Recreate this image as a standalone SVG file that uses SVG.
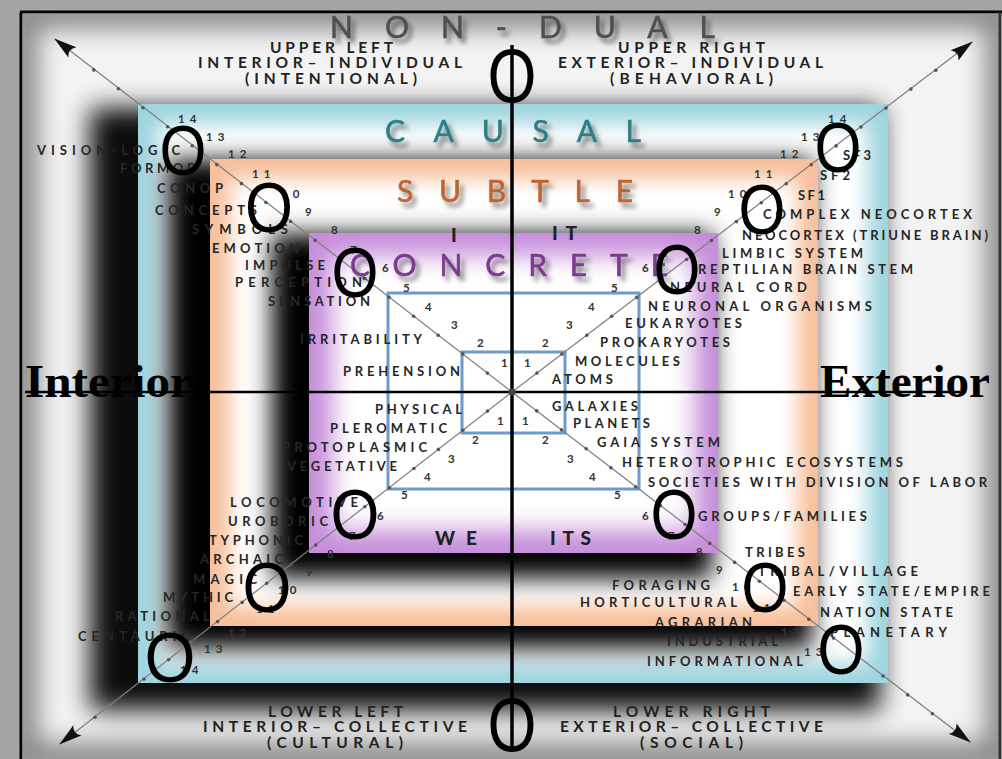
<svg xmlns="http://www.w3.org/2000/svg" width="1002" height="759" viewBox="0 0 1002 759">
<defs>
<style>
.lbl{font-family:Lato,"Open Sans","Liberation Sans",sans-serif;font-weight:bold;font-size:13px;fill:#262626}
.hd{font-family:Lato,"Open Sans","Liberation Sans",sans-serif;font-weight:bold;font-size:15.5px;fill:#222}
.num{font-family:Lato,"Open Sans","Liberation Sans",sans-serif;font-weight:bold;font-size:11.5px;fill:#333;letter-spacing:5px}
.q{font-family:Lato,"Open Sans","Liberation Sans",sans-serif;font-weight:900;font-size:19px;fill:#222}
.ring{font-family:Lato,"Open Sans","Liberation Sans",sans-serif;font-size:30px;stroke-width:0.6}
.O{font-family:"Liberation Sans",Arial,sans-serif;font-size:70px;fill:#000;text-anchor:middle}
.OO{font-family:"Liberation Sans",Arial,sans-serif;font-size:76px;fill:#000;text-anchor:middle}
.ie{font-family:"Liberation Serif","DejaVu Serif",serif;font-weight:bold;font-size:46px;fill:#000}
.diag{stroke:#7d7d7d;stroke-width:1.2;fill:none;marker-end:url(#arr)}
.dot{fill:#555}
.sq{fill:#fff;stroke:#6d9cc9;stroke-width:3}
</style>
<filter id="b13" x="-20%" y="-20%" width="140%" height="140%"><feGaussianBlur stdDeviation="13"/></filter>
<filter id="b12" x="-20%" y="-20%" width="140%" height="140%"><feGaussianBlur stdDeviation="12"/></filter>
<filter id="b10" x="-20%" y="-20%" width="140%" height="140%"><feGaussianBlur stdDeviation="10"/></filter>
<filter id="ts" x="-10%" y="-40%" width="130%" height="200%">
<feGaussianBlur in="SourceAlpha" stdDeviation="2.5"/>
<feOffset dx="4" dy="5" result="b"/>
<feFlood flood-color="#000" flood-opacity="0.5"/>
<feComposite in2="b" operator="in"/>
<feMerge><feMergeNode/><feMergeNode in="SourceGraphic"/></feMerge>
</filter>
<clipPath id="cpFrame"><rect x="23" y="14" width="977" height="745"/></clipPath>
<clipPath id="cpCyan"><rect x="138" y="104" width="750" height="579"/></clipPath>
<clipPath id="cpOrange"><rect x="210" y="159" width="608" height="467"/></clipPath>
<clipPath id="cpPurple"><rect x="309" y="233" width="409" height="320"/></clipPath>
<marker id="arr" markerUnits="userSpaceOnUse" viewBox="-24 -8 26 16" markerWidth="26" markerHeight="16" refX="0" refY="0" orient="auto">
<path d="M1,0 L-22,-6.5 Q-16,0 -22,6.5 Z" fill="#111"/>
</marker>
</defs>

<g id="background">
<rect x="0" y="0" width="1002" height="759" fill="#a4a4a4"/>
<rect x="22" y="12" width="980" height="747" fill="#f3f3f3"/>
<g clip-path="url(#cpFrame)">
<rect x="22" y="12" width="980" height="747" fill="none" stroke="#8c8c8c" stroke-width="34" filter="url(#b12)"/>
<rect x="90" y="108" width="790" height="602" fill="#000" filter="url(#b13)" opacity="0.95"/>
</g>
<line x1="21" y1="12" x2="21" y2="759" stroke="#000" stroke-width="3"/>
<line x1="20" y1="12" x2="1002" y2="12" stroke="#000" stroke-width="3"/>
<line x1="1000" y1="12" x2="1000" y2="759" stroke="#333" stroke-width="3"/>
</g>

<g id="causal">
<g clip-path="url(#cpCyan)">
<rect x="138" y="104" width="750" height="579" fill="#9fd5df"/>
<rect x="158" y="124" width="710" height="539" fill="#fff" filter="url(#b10)"/>
</g>
<rect x="168" y="160" width="644" height="488" fill="#000" filter="url(#b12)"/>
</g>

<g id="subtle">
<g clip-path="url(#cpOrange)">
<rect x="210" y="159" width="608" height="467" fill="#f7bf9a"/>
<rect x="230" y="179" width="568" height="427" fill="#fff" filter="url(#b10)"/>
</g>
<rect x="272" y="234" width="440" height="344" fill="#000" filter="url(#b12)"/>
</g>

<g id="concrete">
<g clip-path="url(#cpPurple)">
<rect x="309" y="233" width="409" height="320" fill="#c68ddb"/>
<rect x="332" y="256" width="363" height="274" fill="#fff" filter="url(#b12)"/>
</g>
<rect class="sq" x="388" y="293" width="251" height="196"/>
<rect class="sq" x="462" y="352" width="103" height="81"/>
</g>

<g id="connectors">
<line class="diag" x1="512" y1="392" x2="55" y2="39"/>
<line class="diag" x1="512" y1="392" x2="972" y2="42"/>
<line class="diag" x1="512" y1="392" x2="60" y2="744"/>
<line class="diag" x1="512" y1="392" x2="970" y2="742"/>
<line x1="512" y1="45" x2="512" y2="752" stroke="#000" stroke-width="3.5"/>
<line x1="25" y1="392" x2="960" y2="392" stroke="#000" stroke-width="2.5"/>
<circle cx="512" cy="392" r="3.5" fill="#444"/>
</g>

<g id="ticks">
<circle class="dot" cx="487.4" cy="373.1" r="1.8"/><circle class="dot" cx="462.8" cy="354.1" r="1.8"/><circle class="dot" cx="438.2" cy="335.2" r="1.8"/><circle class="dot" cx="413.6" cy="316.2" r="1.8"/><circle class="dot" cx="389" cy="297.3" r="1.8"/><circle class="dot" cx="364.4" cy="278.3" r="1.8"/><circle class="dot" cx="339.8" cy="259.4" r="1.8"/><circle class="dot" cx="315.2" cy="240.4" r="1.8"/><circle class="dot" cx="290.6" cy="221.5" r="1.8"/><circle class="dot" cx="266" cy="202.5" r="1.8"/><circle class="dot" cx="241.4" cy="183.6" r="1.8"/><circle class="dot" cx="216.8" cy="164.6" r="1.8"/><circle class="dot" cx="192.2" cy="145.7" r="1.8"/><circle class="dot" cx="167.6" cy="126.7" r="1.8"/><circle class="dot" cx="143" cy="107.8" r="1.8"/><circle class="dot" cx="118.4" cy="88.8" r="1.8"/><circle class="dot" cx="93.8" cy="69.9" r="1.8"/>
<circle class="dot" cx="536.9" cy="373.1" r="1.8"/><circle class="dot" cx="561.9" cy="354.1" r="1.8"/><circle class="dot" cx="586.8" cy="335.2" r="1.8"/><circle class="dot" cx="611.7" cy="316.3" r="1.8"/><circle class="dot" cx="636.7" cy="297.4" r="1.8"/><circle class="dot" cx="661.6" cy="278.4" r="1.8"/><circle class="dot" cx="686.5" cy="259.5" r="1.8"/><circle class="dot" cx="711.4" cy="240.6" r="1.8"/><circle class="dot" cx="736.4" cy="221.6" r="1.8"/><circle class="dot" cx="761.3" cy="202.7" r="1.8"/><circle class="dot" cx="786.2" cy="183.8" r="1.8"/><circle class="dot" cx="811.2" cy="164.8" r="1.8"/><circle class="dot" cx="836.1" cy="145.9" r="1.8"/><circle class="dot" cx="861" cy="127" r="1.8"/><circle class="dot" cx="886" cy="108.1" r="1.8"/><circle class="dot" cx="910.9" cy="89.1" r="1.8"/><circle class="dot" cx="935.8" cy="70.2" r="1.8"/>
<circle class="dot" cx="487.5" cy="411.1" r="1.8"/><circle class="dot" cx="462.9" cy="430.3" r="1.8"/><circle class="dot" cx="438.4" cy="449.4" r="1.8"/><circle class="dot" cx="413.9" cy="468.5" r="1.8"/><circle class="dot" cx="389.4" cy="487.7" r="1.8"/><circle class="dot" cx="364.8" cy="506.8" r="1.8"/><circle class="dot" cx="340.3" cy="525.9" r="1.8"/><circle class="dot" cx="315.8" cy="545" r="1.8"/><circle class="dot" cx="291.2" cy="564.2" r="1.8"/><circle class="dot" cx="266.7" cy="583.3" r="1.8"/><circle class="dot" cx="242.2" cy="602.4" r="1.8"/><circle class="dot" cx="217.6" cy="621.6" r="1.8"/><circle class="dot" cx="193.1" cy="640.7" r="1.8"/><circle class="dot" cx="168.6" cy="659.8" r="1.8"/><circle class="dot" cx="144" cy="679" r="1.8"/><circle class="dot" cx="119.5" cy="698.1" r="1.8"/><circle class="dot" cx="95" cy="717.2" r="1.8"/>
<circle class="dot" cx="536.7" cy="410.9" r="1.8"/><circle class="dot" cx="561.5" cy="429.9" r="1.8"/><circle class="dot" cx="586.2" cy="448.8" r="1.8"/><circle class="dot" cx="610.9" cy="467.7" r="1.8"/><circle class="dot" cx="635.7" cy="486.7" r="1.8"/><circle class="dot" cx="660.4" cy="505.6" r="1.8"/><circle class="dot" cx="685.1" cy="524.5" r="1.8"/><circle class="dot" cx="709.8" cy="543.4" r="1.8"/><circle class="dot" cx="734.6" cy="562.4" r="1.8"/><circle class="dot" cx="759.3" cy="581.3" r="1.8"/><circle class="dot" cx="784" cy="600.2" r="1.8"/><circle class="dot" cx="808.8" cy="619.2" r="1.8"/><circle class="dot" cx="833.5" cy="638.1" r="1.8"/><circle class="dot" cx="858.2" cy="657" r="1.8"/><circle class="dot" cx="883" cy="676" r="1.8"/><circle class="dot" cx="907.7" cy="694.9" r="1.8"/><circle class="dot" cx="932.4" cy="713.8" r="1.8"/>
</g>

<g id="ring-titles">
<text class="ring" x="330" y="38" textLength="385" font-size="32" fill="#505050" stroke="#505050" filter="url(#ts)">NON-DUAL</text>
<text class="ring" x="385" y="142" textLength="256" fill="#2e7f86" stroke="#2e7f86" filter="url(#ts)">CAUSAL</text>
<text class="ring" x="397" y="202" textLength="236" fill="#c0652e" stroke="#c0652e" filter="url(#ts)">SUBTLE</text>
<text class="ring" x="350" y="276" textLength="318" font-size="29" fill="#7b3b8e" stroke="#7b3b8e" filter="url(#ts)">CONCRETE</text>
</g>

<g id="quadrant-headings">
<text class="hd" x="270" y="53" textLength="123">UPPER LEFT</text>
<text class="hd" x="198" y="68" textLength="264">INTERIOR– INDIVIDUAL</text>
<text class="hd" x="245" y="84" textLength="172">(INTENTIONAL)</text>
<text class="hd" x="618" y="53" textLength="147">UPPER RIGHT</text>
<text class="hd" x="558" y="68" textLength="265">EXTERIOR– INDIVIDUAL</text>
<text class="hd" x="610" y="84" textLength="163">(BEHAVIORAL)</text>
<text class="hd" x="268" y="717" textLength="135">LOWER LEFT</text>
<text class="hd" x="203" y="732" textLength="264">INTERIOR– COLLECTIVE</text>
<text class="hd" x="267" y="748" textLength="136">(CULTURAL)</text>
<text class="hd" x="613" y="717" textLength="157">LOWER RIGHT</text>
<text class="hd" x="560" y="732" textLength="263">EXTERIOR– COLLECTIVE</text>
<text class="hd" x="640" y="748" textLength="103">(SOCIAL)</text>
<text class="q" x="451" y="242">I</text>
<text class="q" x="552" y="240" textLength="25">IT</text>
<text class="q" x="435" y="545" textLength="42">WE</text>
<text class="q" x="550" y="545" textLength="41">ITS</text>
</g>

<g id="labels-upper-left">
<text class="lbl" x="37" y="155" textLength="143">VISION-LOGIC</text>
<text class="lbl" x="120" y="173" textLength="75">FORMOP</text>
<text class="lbl" x="157" y="193" textLength="66">CONOP</text>
<text class="lbl" x="155" y="215" textLength="102">CONCEPTS</text>
<text class="lbl" x="192" y="234" textLength="96">SYMBOLS</text>
<text class="lbl" x="212" y="253" textLength="87">EMOTION</text>
<text class="lbl" x="245" y="270" textLength="80">IMPULSE</text>
<text class="lbl" x="235" y="287" textLength="127">PERCEPTION</text>
<text class="lbl" x="268" y="306" textLength="102">SENSATION</text>
<text class="lbl" x="300" y="344" textLength="122">IRRITABILITY</text>
<text class="lbl" x="343" y="376" textLength="117">PREHENSION</text>
</g>
<g id="labels-lower-left">
<text class="lbl" x="375" y="414" textLength="87">PHYSICAL</text>
<text class="lbl" x="330" y="433" textLength="117">PLEROMATIC</text>
<text class="lbl" x="282" y="452" textLength="145">PROTOPLASMIC</text>
<text class="lbl" x="287" y="471" textLength="110">VEGETATIVE</text>
<text class="lbl" x="230" y="507" textLength="128">LOCOMOTIVE</text>
<text class="lbl" x="228" y="526" textLength="100">UROBORIC</text>
<text class="lbl" x="209" y="545" textLength="94">TYPHONIC</text>
<text class="lbl" x="200" y="564" textLength="83">ARCHAIC</text>
<text class="lbl" x="193" y="584" textLength="64">MAGIC</text>
<text class="lbl" x="163" y="602" textLength="70">MYTHIC</text>
<text class="lbl" x="115" y="621" textLength="95">RATIONAL</text>
<text class="lbl" x="78" y="641" textLength="112">CENTAURIC</text>
</g>
<g id="labels-upper-right">
<text class="lbl" x="843" y="160" textLength="28">SF3</text>
<text class="lbl" x="820" y="180" textLength="30">SF2</text>
<text class="lbl" x="798" y="200" textLength="27">SF1</text>
<text class="lbl" x="763" y="219" textLength="209">COMPLEX NEOCORTEX</text>
<text class="lbl" x="742" y="240" textLength="246">NEOCORTEX (TRIUNE BRAIN)</text>
<text class="lbl" x="722" y="258" textLength="141">LIMBIC SYSTEM</text>
<text class="lbl" x="698" y="274" textLength="215">REPTILIAN BRAIN STEM</text>
<text class="lbl" x="670" y="292" textLength="137">NEURAL CORD</text>
<text class="lbl" x="648" y="311" textLength="224">NEURONAL ORGANISMS</text>
<text class="lbl" x="625" y="328" textLength="117">EUKARYOTES</text>
<text class="lbl" x="600" y="347" textLength="130">PROKARYOTES</text>
<text class="lbl" x="575" y="366" textLength="105">MOLECULES</text>
<text class="lbl" x="552" y="384" textLength="61">ATOMS</text>
</g>
<g id="labels-lower-right">
<text class="lbl" x="552" y="411" textLength="86">GALAXIES</text>
<text class="lbl" x="573" y="428" textLength="77">PLANETS</text>
<text class="lbl" x="597" y="447" textLength="123">GAIA SYSTEM</text>
<text class="lbl" x="622" y="467" textLength="281">HETEROTROPHIC ECOSYSTEMS</text>
<text class="lbl" x="648" y="487" textLength="339">SOCIETIES WITH DIVISION OF LABOR</text>
<text class="lbl" x="698" y="521" textLength="169">GROUPS/FAMILIES</text>
<text class="lbl" x="745" y="557" textLength="60">TRIBES</text>
<text class="lbl" x="758" y="576" textLength="160">TRIBAL/VILLAGE</text>
<text class="lbl" x="793" y="596" textLength="197">EARLY STATE/EMPIRE</text>
<text class="lbl" x="820" y="617" textLength="133">NATION STATE</text>
<text class="lbl" x="830" y="637" textLength="117">PLANETARY</text>
<text class="lbl" x="612" y="590" textLength="98">FORAGING</text>
<text class="lbl" x="580" y="607" textLength="157">HORTICULTURAL</text>
<text class="lbl" x="655" y="627" textLength="97">AGRARIAN</text>
<text class="lbl" x="667" y="646" textLength="111">INDUSTRIAL</text>
<text class="lbl" x="647" y="666" textLength="156">INFORMATIONAL</text>
</g>

<g id="tick-numbers">
<text class="num" x="178" y="123">14</text><text class="num" x="206" y="141">13</text><text class="num" x="228" y="158">12</text><text class="num" x="252" y="178">11</text><text class="num" x="281" y="198">10</text><text class="num" x="305" y="216">9</text><text class="num" x="331" y="234">8</text><text class="num" x="350" y="254">7</text><text class="num" x="382" y="272">6</text><text class="num" x="403" y="292">5</text><text class="num" x="425" y="311">4</text><text class="num" x="451" y="329">3</text><text class="num" x="477" y="347">2</text><text class="num" x="501" y="367">1</text>
<text class="num" x="524" y="367">1</text><text class="num" x="542" y="347">2</text><text class="num" x="566" y="329">3</text><text class="num" x="588" y="311">4</text><text class="num" x="611" y="292">5</text><text class="num" x="642" y="272">6</text><text class="num" x="694" y="234">8</text><text class="num" x="714" y="216">9</text><text class="num" x="728" y="198">10</text><text class="num" x="754" y="178">11</text><text class="num" x="780" y="158">12</text><text class="num" x="801" y="141">13</text><text class="num" x="828" y="123">14</text>
<text class="num" x="497" y="425">1</text><text class="num" x="472" y="444">2</text><text class="num" x="448" y="463">3</text><text class="num" x="424" y="481">4</text><text class="num" x="401" y="499">5</text><text class="num" x="377" y="520">6</text><text class="num" x="349" y="540">7</text><text class="num" x="327" y="558">8</text><text class="num" x="306" y="576">9</text><text class="num" x="278" y="594">10</text><text class="num" x="256" y="613">11</text><text class="num" x="228" y="637">12</text><text class="num" x="204" y="653">13</text><text class="num" x="180" y="674">14</text>
<text class="num" x="522" y="425">1</text><text class="num" x="542" y="444">2</text><text class="num" x="567" y="463">3</text><text class="num" x="589" y="481">4</text><text class="num" x="614" y="499">5</text><text class="num" x="642" y="520">6</text><text class="num" x="668" y="540">7</text><text class="num" x="696" y="556">8</text><text class="num" x="716" y="574">9</text><text class="num" x="732" y="591">10</text><text class="num" x="752" y="612">11</text><text class="num" x="781" y="636">12</text><text class="num" x="804" y="656">13</text>
</g>

<g id="axis-labels">
<text class="ie" x="25" y="397" textLength="167" lengthAdjust="spacingAndGlyphs">Interior</text>
<text class="ie" x="820" y="397" textLength="170" lengthAdjust="spacingAndGlyphs">Exterior</text>
</g>

<g id="zeros">
<text class="OO" x="512" y="102" textLength="49" lengthAdjust="spacingAndGlyphs">O</text>
<text class="OO" x="512" y="751" textLength="49" lengthAdjust="spacingAndGlyphs">O</text>
<text class="O" x="183" y="175" textLength="47" lengthAdjust="spacingAndGlyphs">O</text>
<text class="O" x="838" y="172" textLength="47" lengthAdjust="spacingAndGlyphs">O</text>
<text class="O" x="170" y="682" textLength="51" lengthAdjust="spacingAndGlyphs">O</text>
<text class="O" x="841" y="674" textLength="47" lengthAdjust="spacingAndGlyphs">O</text>
<text class="O" x="269" y="232" textLength="48" lengthAdjust="spacingAndGlyphs">O</text>
<text class="O" x="762" y="234" textLength="47" lengthAdjust="spacingAndGlyphs">O</text>
<text class="O" x="267" y="612" textLength="49" lengthAdjust="spacingAndGlyphs">O</text>
<text class="O" x="765" y="612" textLength="47" lengthAdjust="spacingAndGlyphs">O</text>
<text class="O" x="355" y="297" textLength="47" lengthAdjust="spacingAndGlyphs">O</text>
<text class="O" x="677" y="294" textLength="47" lengthAdjust="spacingAndGlyphs">O</text>
<text class="O" x="355" y="539" textLength="49" lengthAdjust="spacingAndGlyphs">O</text>
<text class="O" x="674" y="539" textLength="47" lengthAdjust="spacingAndGlyphs">O</text>
</g>
</svg>
